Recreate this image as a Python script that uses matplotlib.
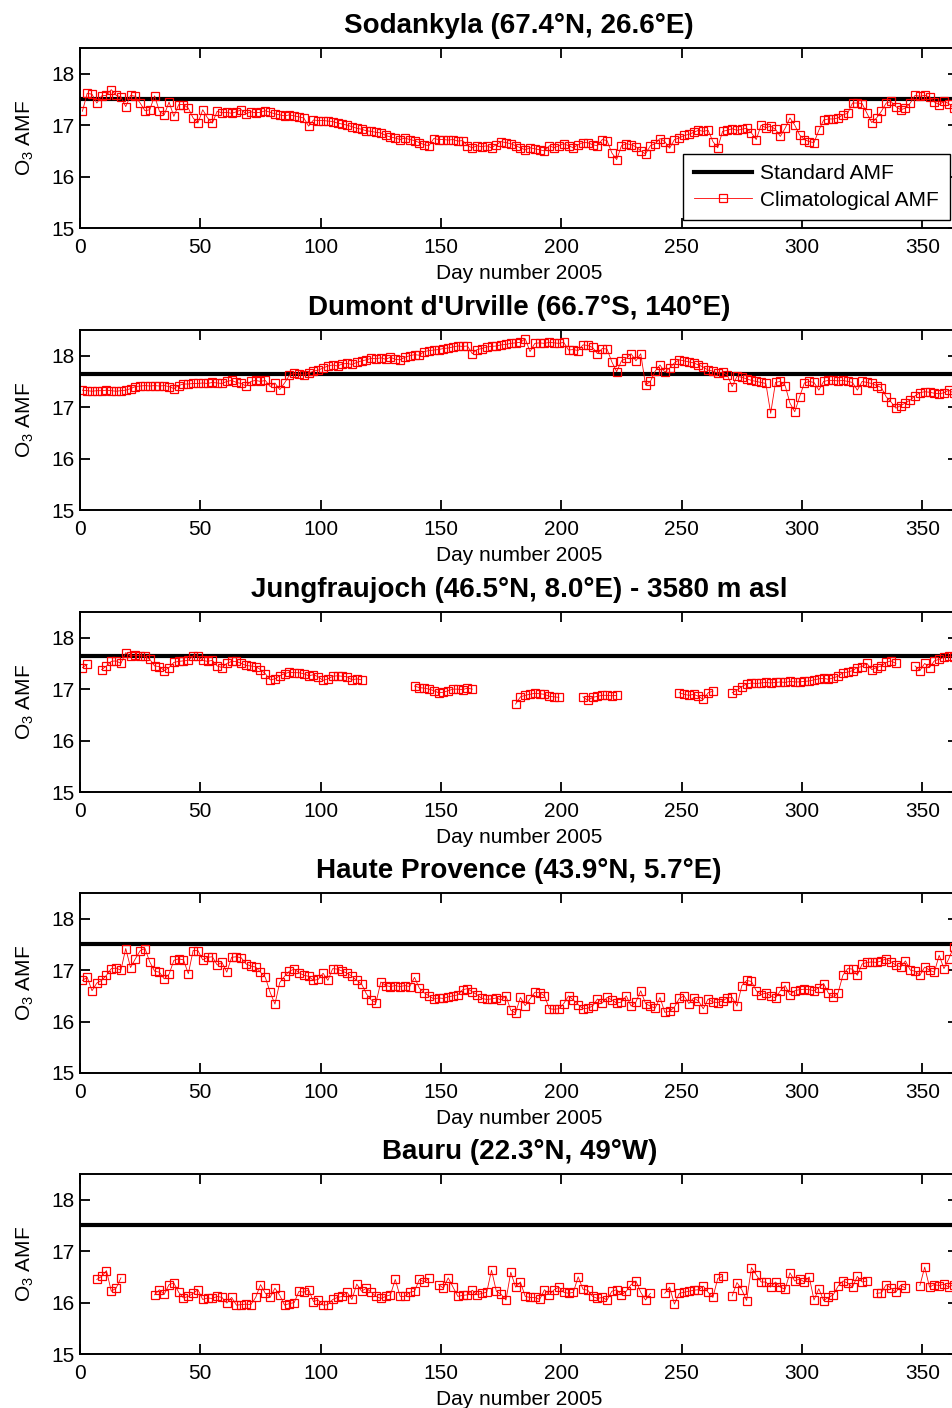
import matplotlib
matplotlib.use("Agg")
import matplotlib.pyplot as plt
import numpy as np

plt.rcParams['font.family'] = ['Liberation Sans', 'DejaVu Sans']

nan = np.nan

titles = ["Sodankyla (67.4°N, 26.6°E)",
          "Dumont d'Urville (66.7°S, 140°E)",
          "Jungfraujoch (46.5°N, 8.0°E) - 3580 m asl",
          "Haute Provence (43.9°N, 5.7°E)",
          "Bauru (22.3°N, 49°W)"]

standard_amf = [17.5, 17.65, 17.65, 17.5, 17.5]

# climatological AMF, one value every second day (day 1, 3, ..., 365)
sodankyla = [
    17.27, 17.62, 17.60, 17.43, 17.57, 17.58, 17.69, 17.58, 17.55, 17.36,
    17.58, 17.56, 17.43, 17.28, 17.30, 17.57, 17.27, 17.20, 17.45, 17.17,
    17.40, 17.40, 17.33, 17.14, 17.04, 17.30, 17.14, 17.04, 17.27, 17.24,
    17.25, 17.23, 17.26, 17.30, 17.22, 17.26, 17.24, 17.25, 17.28, 17.25,
    17.22, 17.20, 17.18, 17.20, 17.18, 17.16, 17.14, 16.98, 17.10, 17.09,
    17.09, 17.08, 17.07, 17.04, 17.02, 17.00, 16.97, 16.94, 16.92, 16.89,
    16.88, 16.86, 16.85, 16.80, 16.77, 16.75, 16.72, 16.75, 16.72, 16.70,
    16.66, 16.62, 16.60, 16.74, 16.72, 16.72, 16.71, 16.72, 16.69, 16.70,
    16.60, 16.56, 16.60, 16.58, 16.60, 16.56, 16.62, 16.68, 16.66, 16.64,
    16.60, 16.56, 16.52, 16.56, 16.54, 16.52, 16.50, 16.60, 16.56, 16.60,
    16.64, 16.60, 16.56, 16.62, 16.66, 16.66, 16.62, 16.60, 16.72, 16.70,
    16.46, 16.33, 16.60, 16.64, 16.62, 16.58, 16.50, 16.44, 16.60, 16.64,
    16.74, 16.68, 16.55, 16.72, 16.75, 16.80, 16.82, 16.86, 16.90, 16.88,
    16.90, 16.68, 16.56, 16.88, 16.90, 16.93, 16.90, 16.92, 16.94, 16.85,
    16.72, 17.00, 16.95, 16.98, 16.92, 16.78, 16.94, 17.14, 17.00, 16.81,
    16.72, 16.68, 16.66, 16.90, 17.10, 17.12, 17.12, 17.14, 17.20, 17.23,
    17.43, 17.43, 17.42, 17.23, 17.05, 17.14, 17.27, 17.43, 17.46, 17.36,
    17.30, 17.33, 17.43, 17.58, 17.56, 17.58, 17.55, 17.45, 17.40, 17.46,
    17.42, 17.33, 17.40]

dumont = [
    17.33, 17.32, 17.31, 17.32, 17.32, 17.33, 17.32, 17.31, 17.32, 17.33,
    17.36, 17.40, 17.41, 17.42, 17.41, 17.42, 17.41, 17.42, 17.40, 17.36,
    17.42, 17.45, 17.45, 17.46, 17.46, 17.47, 17.46, 17.48, 17.47, 17.46,
    17.50, 17.52, 17.48, 17.46, 17.41, 17.50, 17.52, 17.50, 17.52, 17.40,
    17.47, 17.34, 17.47, 17.62, 17.66, 17.64, 17.62, 17.66, 17.70, 17.72,
    17.76, 17.80, 17.82, 17.80, 17.84, 17.85, 17.83, 17.87, 17.90, 17.92,
    17.95, 17.94, 17.96, 17.93, 17.97, 17.93, 17.92, 17.97, 18.00, 18.02,
    18.01, 18.08, 18.10, 18.11, 18.12, 18.14, 18.15, 18.17, 18.19, 18.18,
    18.19, 18.04, 18.12, 18.14, 18.17, 18.18, 18.19, 18.21, 18.22, 18.24,
    18.25, 18.26, 18.33, 18.08, 18.24, 18.25, 18.24, 18.26, 18.25, 18.24,
    18.26, 18.11, 18.12, 18.10, 18.21, 18.20, 18.16, 18.04, 18.14, 18.13,
    17.88, 17.69, 17.90, 17.95, 18.04, 17.90, 18.04, 17.43, 17.50, 17.70,
    17.82, 17.68, 17.76, 17.86, 17.92, 17.90, 17.88, 17.86, 17.82, 17.78,
    17.72, 17.70, 17.66, 17.68, 17.62, 17.40, 17.60, 17.58, 17.55, 17.52,
    17.50, 17.48, 17.46, 16.88, 17.48, 17.50, 17.42, 17.08, 16.91, 17.20,
    17.47, 17.50, 17.48, 17.33, 17.50, 17.52, 17.52, 17.51, 17.52, 17.50,
    17.48, 17.33, 17.50, 17.48, 17.46, 17.42, 17.38, 17.20, 17.10, 16.98,
    17.03, 17.08, 17.14, 17.22, 17.28, 17.30, 17.29, 17.27, 17.26, 17.28,
    17.33, 17.27, 17.30]

jungfraujoch = [
    17.42, 17.48, nan, nan, 17.38, 17.45, 17.54, 17.55, 17.50, 17.71,
    17.64, 17.66, 17.65, 17.64, 17.58, 17.45, 17.44, 17.36, 17.42, 17.52,
    17.54, 17.55, 17.56, 17.65, 17.64, 17.56, 17.54, 17.56, 17.45, 17.42,
    17.50, 17.54, 17.54, 17.50, 17.46, 17.45, 17.44, 17.38, 17.30, 17.18,
    17.20, 17.26, 17.30, 17.33, 17.32, 17.32, 17.30, 17.26, 17.28, 17.24,
    17.17, 17.20, 17.25, 17.26, 17.25, 17.24, 17.18, 17.20, 17.18, nan,
    nan, nan, nan, nan, nan, nan, nan, nan, nan, 17.06,
    17.03, 17.02, 17.00, 16.97, 16.93, 16.94, 16.97, 17.00, 17.00, 16.99,
    17.02, 17.00, nan, nan, nan, nan, nan, nan, nan, nan,
    16.71, 16.85, 16.88, 16.90, 16.92, 16.91, 16.90, 16.86, 16.85, 16.84,
    nan, nan, nan, nan, 16.85, 16.78, 16.84, 16.86, 16.88, 16.88,
    16.87, 16.88, nan, nan, nan, nan, nan, nan, nan, nan,
    nan, nan, nan, nan, 16.93, 16.90, 16.88, 16.90, 16.86, 16.80,
    16.93, 16.96, nan, nan, nan, 16.93, 16.98, 17.05, 17.10, 17.12,
    17.11, 17.12, 17.13, 17.12, 17.13, 17.14, 17.13, 17.15, 17.14, 17.14,
    17.15, 17.16, 17.18, 17.20, 17.21, 17.19, 17.22, 17.25, 17.32, 17.33,
    17.36, 17.42, 17.44, 17.50, 17.38, 17.42, 17.45, 17.52, 17.55, 17.50,
    nan, nan, nan, 17.45, 17.36, 17.50, 17.42, 17.55, 17.58, 17.62,
    17.64, 17.62, 17.66]

haute_provence = [
    16.80, 16.86, 16.60, 16.75, 16.80, 16.90, 17.03, 17.04, 17.00, 17.42,
    17.05, 17.22, 17.38, 17.42, 17.16, 16.98, 16.96, 16.83, 16.92, 17.19,
    17.22, 17.20, 16.93, 17.38, 17.38, 17.20, 17.25, 17.26, 17.10, 17.15,
    16.96, 17.25, 17.26, 17.24, 17.12, 17.08, 17.06, 16.96, 16.86, 16.57,
    16.34, 16.76, 16.88, 16.98, 17.02, 16.95, 16.90, 16.88, 16.80, 16.82,
    16.94, 16.80, 17.03, 17.02, 16.98, 16.94, 16.88, 16.80, 16.73, 16.54,
    16.42, 16.37, 16.77, 16.70, 16.68, 16.70, 16.68, 16.70, 16.68, 16.86,
    16.65, 16.56, 16.50, 16.44, 16.46, 16.45, 16.48, 16.50, 16.52, 16.62,
    16.64, 16.58, 16.52, 16.45, 16.43, 16.44, 16.46, 16.42, 16.50, 16.22,
    16.17, 16.47, 16.31, 16.44, 16.57, 16.56, 16.50, 16.25, 16.24, 16.25,
    16.35, 16.50, 16.42, 16.33, 16.25, 16.26, 16.30, 16.44, 16.36, 16.47,
    16.42, 16.36, 16.38, 16.50, 16.30, 16.38, 16.60, 16.35, 16.30, 16.26,
    16.47, 16.18, 16.20, 16.28, 16.45, 16.50, 16.35, 16.46, 16.40, 16.25,
    16.44, 16.38, 16.37, 16.40, 16.46, 16.47, 16.30, 16.70, 16.80, 16.78,
    16.60, 16.52, 16.56, 16.50, 16.46, 16.60, 16.70, 16.52, 16.60, 16.62,
    16.63, 16.62, 16.60, 16.66, 16.74, 16.55, 16.47, 16.56, 16.90, 17.03,
    17.02, 16.90, 17.12, 17.15, 17.16, 17.15, 17.18, 17.22, 17.16, 17.10,
    17.06, 17.18, 17.00, 16.98, 16.90, 17.06, 17.00, 16.96, 17.29, 17.03,
    17.22, 17.45, 17.30]

bauru = [
    nan, nan, nan, 16.45, 16.51, 16.62, 16.22, 16.28, 16.48, nan,
    nan, nan, nan, nan, nan, 16.15, 16.25, 16.16, 16.35, 16.38,
    16.20, 16.09, 16.12, 16.18, 16.25, 16.06, 16.09, 16.08, 16.12, 16.10,
    15.99, 16.10, 15.95, 15.96, 15.97, 15.96, 16.10, 16.35, 16.18, 16.10,
    16.28, 16.14, 15.95, 15.98, 16.00, 16.22, 16.20, 16.25, 16.02, 16.05,
    15.95, 15.96, 16.06, 16.10, 16.12, 16.20, 16.06, 16.36, 16.22, 16.28,
    16.20, 16.12, 16.08, 16.12, 16.15, 16.45, 16.12, 16.12, 16.20, 16.22,
    16.45, 16.40, 16.47, nan, 16.35, 16.28, 16.48, 16.30, 16.12, 16.14,
    16.15, 16.24, 16.15, 16.18, 16.20, 16.63, 16.22, 16.16, 16.05, 16.59,
    16.30, 16.40, 16.12, 16.10, 16.10, 16.06, 16.25, 16.15, 16.25, 16.30,
    16.20, 16.18, 16.20, 16.50, 16.26, 16.24, 16.12, 16.08, 16.10, 16.05,
    16.22, 16.25, 16.15, 16.22, 16.35, 16.42, 16.20, 16.05, 16.18, nan,
    nan, 16.18, 16.30, 15.97, 16.18, 16.20, 16.22, 16.24, 16.25, 16.32,
    16.20, 16.10, 16.47, 16.51, nan, 16.13, 16.39, 16.25, 16.04, 16.68,
    16.54, 16.40, 16.40, 16.30, 16.40, 16.30, 16.26, 16.58, 16.42, 16.46,
    16.40, 16.50, 16.05, 16.27, 16.04, 16.10, 16.15, 16.32, 16.42, 16.38,
    16.30, 16.51, 16.40, 16.42, nan, 16.18, 16.19, 16.35, 16.28, 16.20,
    16.34, 16.28, nan, nan, 16.33, 16.69, 16.30, 16.35, 16.33, 16.36,
    16.30, 16.35, 16.32]

series = [sodankyla, dumont, jungfraujoch, haute_provence, bauru]
days = np.arange(1, 366, 2)

fig = plt.figure(figsize=(9.52, 14.08), dpi=100)

left = 80 / 952
width = 878.4 / 952
height = 180 / 1408
tops = [48, 330, 612, 893, 1174]

for i in range(5):
    bottom = 1 - (tops[i] + 180) / 1408
    ax = fig.add_axes([left, bottom, width, height])
    ax.axhline(standard_amf[i], color='black', lw=3, label='Standard AMF')
    ax.plot(days, series[i], '-s', color='red', lw=0.6, ms=5.5, mew=0.9,
            mfc='none', label='Climatological AMF')
    ax.set_xlim(0, 365)
    ax.set_ylim(15, 18.5)
    ax.set_xticks(np.arange(0, 351, 50))
    ax.set_yticks([15, 16, 17, 18])
    ax.tick_params(direction='in', top=True, right=True, length=7, width=1.3,
                   labelsize=15)
    ax.tick_params(axis='x', pad=7)
    ax.tick_params(axis='y', pad=4)
    for s in ax.spines.values():
        s.set_linewidth(1.4)
    ax.set_title(titles[i], fontsize=20, fontweight='bold', pad=11)
    ax.set_xlabel('Day number 2005', fontsize=15, labelpad=5)
    ax.set_ylabel(r'O$_{\mathregular{3}}$ AMF', fontsize=15, labelpad=11)
    if i == 0:
        leg = ax.legend(loc='lower right', bbox_to_anchor=(0.990, 0.044),
                        borderaxespad=0, fancybox=False, framealpha=1,
                        edgecolor='black', fontsize=15, handlelength=2.8,
                        labelspacing=0.35, borderpad=0.5, handletextpad=0.4)
        leg.get_frame().set_linewidth(1.0)

fig.savefig('out.png', dpi=100)
